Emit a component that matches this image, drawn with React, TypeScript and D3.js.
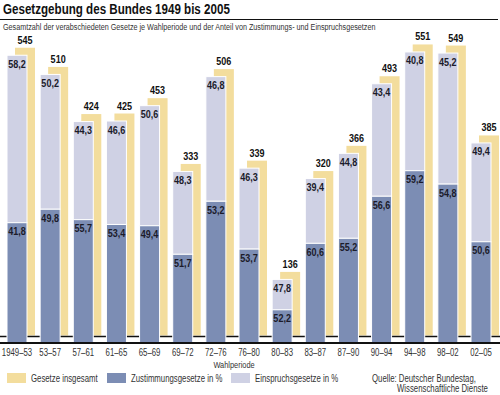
import React from 'react';
import * as d3 from 'd3';

const periods = ['1949–53', '53–57', '57–61', '61–65', '65–69', '69–72', '72–76', '76–80', '80–83', '83–87', '87–90', '90–94', '94–98', '98–02', '02–05'];
const totals = [545, 510, 424, 425, 453, 333, 506, 339, 136, 320, 366, 493, 551, 549, 385];
const zustimmung = [41.8, 49.8, 55.7, 53.4, 49.4, 51.7, 53.2, 53.7, 52.2, 60.6, 55.2, 56.6, 59.2, 54.8, 50.6];
const einspruch = [58.2, 50.2, 44.3, 46.6, 50.6, 48.3, 46.8, 46.3, 47.8, 39.4, 44.8, 43.4, 40.8, 45.2, 49.4];

const legendItems = [
  { label: 'Gesetze insgesamt', color: '#f3dd9d', x: 7 },
  { label: 'Zustimmungsgesetze in %', color: '#7c8db4', x: 107 },
  { label: 'Einspruchsgesetze in %', color: '#cfd1e4', x: 231 },
];

const FONT = "'Liberation Sans', Arial, sans-serif";
const YELLOW = '#f3dd9d';
const BLUE = '#7c8db4';
const LAV = '#cfd1e4';

const fmt = (v: number) => d3.format('.1f')(v).replace('.', ',');

// condensed text: regular sans squeezed horizontally
const NText = ({ x, y, sx = 0.8, children, ...rest }: any) => (
  <text transform={`translate(${x},${y}) scale(${sx},1)`} {...rest}>
    {children}
  </text>
);

export default function App() {
  const x = d3.scaleBand().domain(periods).range([7, 491]).paddingInner(0.3965);
  const y = d3.scaleLinear().domain([20, 550]).range([335.5, 45]);
  const bw = x.bandwidth();
  const shift = 8; // yellow bar sits right of the stack
  const drop = 7.5; // stack sits lower than the yellow bar
  const base = y(20);

  return (
    <svg width={500} height={395} style={{ position: 'absolute', left: 0, top: 0, background: '#fff' }} fontFamily={FONT}>
      {/* title */}
      <NText x={3} y={14} sx={0.8} fontSize={14.5} fontWeight="bold" fill="#111">
        Gesetzgebung des Bundes 1949 bis 2005
      </NText>
      <line x1={0} x2={498} y1={19.5} y2={19.5} stroke="#111" strokeWidth={1} />
      <NText x={3} y={30} sx={0.82} fontSize={8.8} fill="#333">
        Gesamtzahl der verabschiedeten Gesetze je Wahlperiode und der Anteil von Zustimmungs- und Einspruchsgesetzen
      </NText>

      {/* total bars */}
      {periods.map((p, i) => (
        <rect key={'t' + p} x={x(p)! + shift} y={y(totals[i])} width={bw} height={base - y(totals[i])} fill={YELLOW} />
      ))}
      <line x1={0} x2={500} y1={336.5} y2={336.5} stroke="#111" strokeWidth={1.5} />

      {/* stacked share bars */}
      {periods.map((p, i) => {
        const top = y(totals[i]) + drop;
        const bottom = base + drop;
        const h = bottom - top;
        const blueTop = bottom - (h * zustimmung[i]) / 100;
        const cx = x(p)! + bw / 2;
        return (
          <g key={'s' + p}>
            <rect x={x(p)!} y={top} width={bw} height={blueTop - top} fill={LAV} stroke="#fff" strokeWidth={1} />
            <rect x={x(p)!} y={blueTop} width={bw} height={bottom - blueTop} fill={BLUE} stroke="#fff" strokeWidth={1} />
            <NText x={cx} y={top + 12.5} sx={0.86} textAnchor="middle" fontSize={10.5} fontWeight="bold" fill="#1b1b2a">
              {fmt(einspruch[i])}
            </NText>
            <NText x={cx} y={blueTop + 12.5} sx={0.86} textAnchor="middle" fontSize={10.5} fontWeight="bold" fill="#1b1b2a">
              {fmt(zustimmung[i])}
            </NText>
            <NText x={x(p)! + shift + bw / 2} y={y(totals[i]) - 4} sx={0.86} textAnchor="middle" fontSize={10.5} fontWeight="bold" fill="#111">
              {totals[i]}
            </NText>
          </g>
        );
      })}

      {/* axis */}
      <line x1={0} x2={500} y1={343} y2={343} stroke="#111" strokeWidth={2} />
      {periods.map((p) => (
        <NText key={'l' + p} x={x(p)! + bw / 2} y={356} sx={0.78} textAnchor="middle" fontSize={10} fill="#333">
          {p}
        </NText>
      ))}
      <NText x={234} y={367.5} sx={0.78} textAnchor="middle" fontSize={9.5} fill="#333">Wahlperiode</NText>

      {/* legend */}
      {legendItems.map((d) => (
        <g key={d.label}>
          <rect x={d.x} y={373} width={19} height={10} fill={d.color} />
          <NText x={d.x + 24} y={381.5} sx={0.78} fontSize={10} fill="#333">{d.label}</NText>
        </g>
      ))}
      <NText x={372} y={381.5} sx={0.78} fontSize={10} fill="#333">Quelle: Deutscher Bundestag,</NText>
      <NText x={397} y={391.5} sx={0.78} fontSize={10} fill="#333">Wissenschaftliche Dienste</NText>
    </svg>
  );
}
